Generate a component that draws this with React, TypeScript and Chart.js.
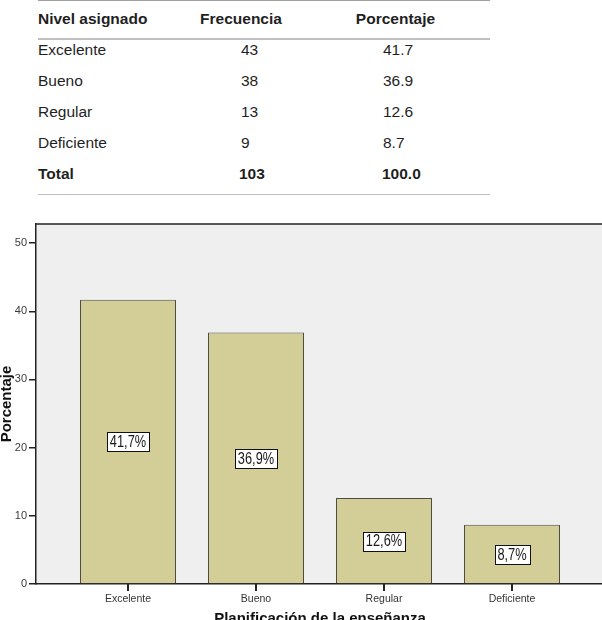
import React, { useEffect, useRef } from "react";
import { Chart, registerables } from "chart.js";

Chart.register(...registerables);

// Frequency table and bar chart data
const levels = ["Excelente", "Bueno", "Regular", "Deficiente"];
const frequencies = [43, 38, 13, 9];
const percents = [41.7, 36.9, 12.6, 8.7];
const totalFrequency = 103;
const totalPercent = 100.0;
const tableHeaders = ["Nivel asignado", "Frecuencia", "Porcentaje"];
const totalLabel = "Total";

const yTicks = [0, 10, 20, 30, 40, 50];
const yMax = 52.8;
const xTitle = "Planificación de la enseñanza";
const yTitle = "Porcentaje";

const SANS = '"Liberation Sans", Arial, sans-serif';

const fmtPct = (v: number) => v.toFixed(1).replace(".", ",") + "%";

// Plot background, frame line, category tick marks, value boxes and axis titles
const plotDecor = {
  id: "plotDecor",
  beforeDraw(chart: any) {
    const { ctx, chartArea } = chart;
    ctx.save();
    ctx.fillStyle = "#efefef";
    ctx.fillRect(chartArea.left, chartArea.top, chartArea.right - chartArea.left, chartArea.bottom - chartArea.top);
    ctx.restore();
  },
  afterDraw(chart: any) {
    const { ctx, chartArea, scales } = chart;
    ctx.save();
    // top frame line
    ctx.strokeStyle = "#222";
    ctx.lineWidth = 1.5;
    ctx.beginPath();
    ctx.moveTo(chartArea.left - 0.75, chartArea.top);
    ctx.lineTo(chart.width, chartArea.top);
    ctx.stroke();

    // category tick marks under the x axis
    ctx.fillStyle = "#222";
    levels.forEach((_, i) => {
      const px = Math.round(scales.x.getPixelForValue(i));
      ctx.fillRect(px - 1, Math.round(chartArea.bottom), 2, 7);
    });

    // value boxes at mid height of each bar
    const meta = chart.getDatasetMeta(0);
    ctx.font = `16px ${SANS}`;
    meta.data.forEach((bar: any, i: number) => {
      const text = fmtPct(percents[i]);
      const sx = 0.8;
      const tw = ctx.measureText(text).width * sx;
      const cx = bar.x;
      const cy = scales.y.getPixelForValue(percents[i] / 2);
      const bw = Math.round(tw + 6);
      const bh = 19;
      const bx = Math.round(cx - bw / 2) + 0.5;
      const by = Math.round(cy - bh / 2) + 0.5;
      ctx.fillStyle = "#ffffff";
      ctx.fillRect(bx, by, bw, bh);
      ctx.strokeStyle = "#111";
      ctx.lineWidth = 1;
      ctx.strokeRect(bx, by, bw, bh);
      ctx.save();
      ctx.translate(cx, cy);
      ctx.scale(sx, 1);
      ctx.fillStyle = "#1a1a1a";
      ctx.textAlign = "center";
      ctx.textBaseline = "middle";
      ctx.fillText(text, 0, 1);
      ctx.restore();
    });

    // axis titles
    ctx.fillStyle = "#111";
    ctx.font = `bold 15px ${SANS}`;
    ctx.textAlign = "center";
    ctx.textBaseline = "alphabetic";
    ctx.fillText(xTitle, (chartArea.left + chartArea.right) / 2, chartArea.bottom + 39);

    ctx.save();
    ctx.translate(11, (chartArea.top + chartArea.bottom) / 2);
    ctx.rotate(-Math.PI / 2);
    ctx.fillText(yTitle, 0, 0);
    ctx.restore();

    ctx.restore();
  },
};

function BarChart() {
  const ref = useRef<HTMLCanvasElement | null>(null);
  useEffect(() => {
    const canvas = ref.current;
    if (!canvas) return;
    const chart = new Chart(canvas, {
      type: "bar",
      data: {
        datasets: [
          {
            data: percents.map((p, i) => ({ x: i, y: p })),
            backgroundColor: "#d3ce97",
            borderColor: "#4f4e46",
            borderWidth: 1,
            barPercentage: 0.75,
            categoryPercentage: 1,
          },
        ],
      },
      options: {
        animation: false,
        responsive: false,
        devicePixelRatio: 1,
        layout: { padding: { left: 0, top: 24, right: 36, bottom: 6 } },
        plugins: { legend: { display: false }, tooltip: { enabled: false } },
        scales: {
          x: {
            type: "linear",
            offset: false,
            min: -0.71875,
            max: 3.71875,
            afterBuildTicks: (s: any) => {
              s.ticks = levels.map((_, i) => ({ value: i }));
            },
            afterFit: (s: any) => {
              s.height = 30;
            },
            ticks: {
              callback: (v: any) => levels[v] ?? "",
              font: { family: SANS, size: 10.5 },
              color: "#333",
              padding: 3,
              autoSkip: false,
              maxRotation: 0,
            },
            grid: { display: false, tickLength: 6 },
            border: { display: true, color: "#222", width: 1.5 },
          },
          y: {
            type: "linear",
            min: 0,
            max: yMax,
            afterBuildTicks: (s: any) => {
              s.ticks = yTicks.map((v) => ({ value: v }));
            },
            afterFit: (s: any) => {
              s.width = 36;
            },
            ticks: { font: { family: SANS, size: 11 }, color: "#3a3a3a", padding: 2 },
            grid: { drawOnChartArea: false, drawTicks: true, tickLength: 7, color: "#222", lineWidth: 1.5 },
            border: { display: true, color: "#222", width: 1.5 },
          },
        },
      } as any,
      plugins: [plotDecor],
    });
    return () => chart.destroy();
  }, []);
  return (
    <canvas
      ref={ref}
      width={640}
      height={420}
      style={{ position: "absolute", left: 0, top: 200, width: 640, height: 420 }}
    />
  );
}

function FrequencyTable() {
  const baselines = [55, 86, 117, 148];
  const textStyle = { fontFamily: SANS, fontSize: 15.5, fill: "#1f1f1f" } as const;
  return (
    <svg width={602} height={200} style={{ position: "absolute", left: 0, top: 0 }}>
      <line x1={38} x2={490} y1={0.5} y2={0.5} stroke="#a0a0a0" strokeWidth={1} />
      <line x1={38} x2={490} y1={39} y2={39} stroke="#808080" strokeWidth={1} />
      <line x1={38} x2={490} y1={194.5} y2={194.5} stroke="#bdbdbd" strokeWidth={1} />
      <text x={38} y={24} {...textStyle} fontWeight="bold">{tableHeaders[0]}</text>
      <text x={241} y={24} {...textStyle} fontWeight="bold" textAnchor="middle">{tableHeaders[1]}</text>
      <text x={395.5} y={24} {...textStyle} fontWeight="bold" textAnchor="middle">{tableHeaders[2]}</text>
      {levels.map((lv, i) => (
        <g key={lv}>
          <text x={38} y={baselines[i]} {...textStyle}>{lv}</text>
          <text x={241} y={baselines[i]} {...textStyle}>{frequencies[i]}</text>
          <text x={383} y={baselines[i]} {...textStyle}>{percents[i].toFixed(1)}</text>
        </g>
      ))}
      <text x={38} y={179} {...textStyle} fontWeight="bold">{totalLabel}</text>
      <text x={239} y={179} {...textStyle} fontWeight="bold">{totalFrequency}</text>
      <text x={382} y={179} {...textStyle} fontWeight="bold">{totalPercent.toFixed(1)}</text>
    </svg>
  );
}

export default function App() {
  return (
    <div
      style={{
        position: "fixed",
        left: 0,
        top: 0,
        width: 602,
        height: 620,
        overflow: "hidden",
        background: "#ffffff",
      }}
    >
      <FrequencyTable />
      <BarChart />
    </div>
  );
}
